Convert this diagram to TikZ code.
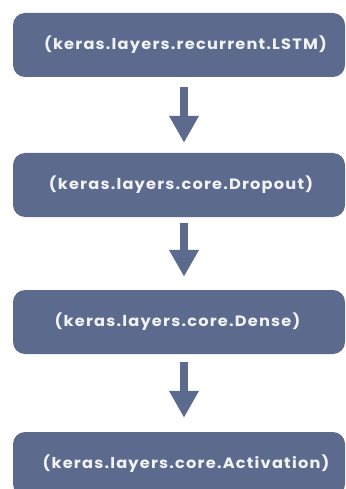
\documentclass[tikz,border=0pt]{standalone}
\usepackage{fontspec}
\setmainfont{Poppins}
\newfontfamily\layerfont[LetterSpace=8,FakeStretch=1.08]{Poppins}
\usetikzlibrary{arrows.meta}
\definecolor{layerblue}{HTML}{5C6A8E}
\definecolor{layertext}{HTML}{F2F3F5}
\tikzset{
  layerbox/.style={fill=layerblue, rounded corners=12pt, minimum width=332pt,
    minimum height=64pt, inner sep=0pt, text=layertext,
    font=\layerfont\fontsize{15pt}{17pt}\selectfont\bfseries},
  flow/.style={draw=layerblue, line width=8pt,
    -{Triangle[width=28pt,length=27pt]}}
}
\begin{document}
\begin{tikzpicture}[x=1pt,y=1pt]
  \useasboundingbox (0,0) rectangle (345,-489);
  \clip (0,0) rectangle (345,-489);
  \node[layerbox] (lstm)    at (179,-45)  {\hspace*{13pt}(keras.layers.recurrent.LSTM)};
  \node[layerbox] (dropout) at (179,-185) {\hspace*{4pt}(keras.layers.core.Dropout)};
  \node[layerbox] (dense)   at (179,-322) {\hspace*{-3pt}(keras.layers.core.Dense)};
  \node[layerbox] (act)     at (179,-464) {\hspace*{14pt}(keras.layers.core.Activation)};
  \draw[flow, shorten <=10pt, shorten >=10pt] ([xshift=5pt]lstm.south) -- ([xshift=5pt]dropout.north);
  \draw[flow, shorten <=6pt, shorten >=13pt] ([xshift=5pt]dropout.south) -- ([xshift=5pt]dense.north);
  \draw[flow, shorten <=8pt, shorten >=14pt] ([xshift=5pt]dense.south) -- ([xshift=5pt]act.north);
\end{tikzpicture}
\end{document}
